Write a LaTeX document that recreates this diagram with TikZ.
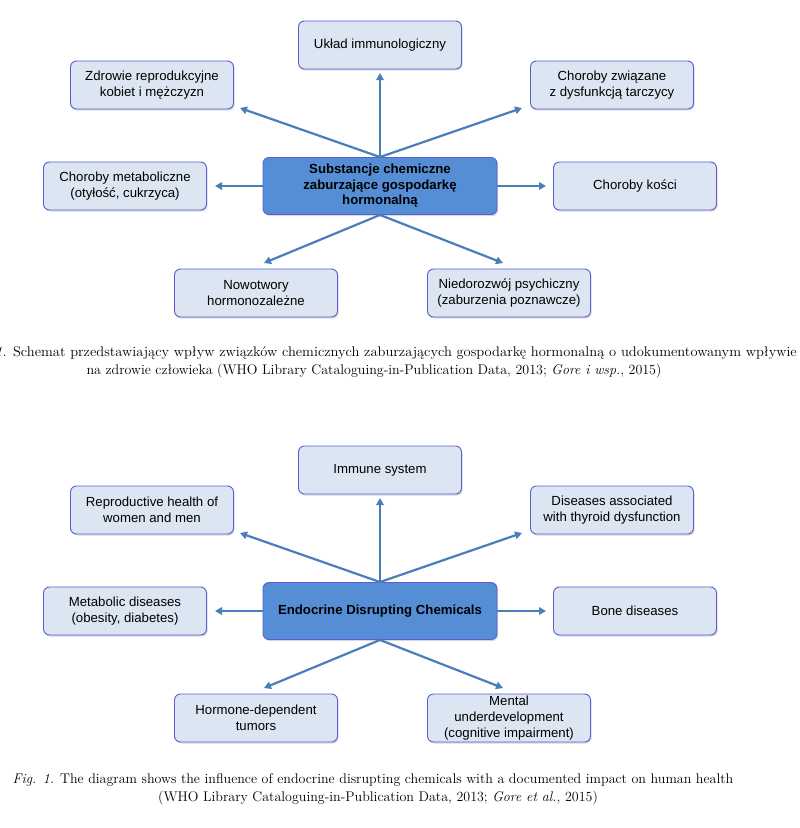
\documentclass[tikz,border=0pt]{standalone}
\usepackage{fontspec}
\newfontfamily\boxfont{Liberation Sans}
\usetikzlibrary{shadows,arrows.meta}
\definecolor{boxfill}{HTML}{DCE6F2}
\definecolor{boxdraw}{HTML}{5C5CD6}
\definecolor{ctrfill}{HTML}{558ED5}
\definecolor{arr}{HTML}{4A7EBB}
\begin{document}
\begin{tikzpicture}[x=1pt,y=-1pt,
  leaf/.style={draw=boxdraw, fill=boxfill, line width=0.9pt, rounded corners=6pt,
    minimum width=163pt, minimum height=48pt, inner sep=0pt, align=center,
    font=\boxfont\fontsize{13.2}{16}\selectfont,
    drop shadow={shadow xshift=1.2pt,shadow yshift=-1.6pt,opacity=0.3}},
  hub/.style={leaf, fill=ctrfill, minimum width=234pt, minimum height=57pt,
    font=\boxfont\bfseries\fontsize{13.2}{15.5}\selectfont},
  link/.style={draw=arr, line width=2.2pt, -{Triangle[length=7pt,width=7.5pt]}},
  captext/.style={inner sep=0pt, font=\fontsize{14}{17}\selectfont},
]
\useasboundingbox (0,0) rectangle (800,828);
% ---------- top diagram ----------
\node[leaf] (ti) at (380,45) {Układ immunologiczny};
\node[leaf] (tr) at (152,85) {Zdrowie reprodukcyjne\\kobiet i mężczyzn};
\node[leaf] (tt) at (612,85) {Choroby związane\\z dysfunkcją tarczycy};
\node[leaf] (tm) at (125,186) {Choroby metaboliczne\\(otyłość, cukrzyca)};
\node[hub]  (tc) at (380,186) {Substancje chemiczne\\zaburzające gospodarkę\\hormonalną};
\node[leaf] (tb) at (635,186) {Choroby kości};
\node[leaf] (th) at (256,293) {Nowotwory\\hormonozależne};
\node[leaf] (tp) at (509,293) {Niedorozwój psychiczny\\(zaburzenia poznawcze)};
\coordinate (ti-e) at (380,73);
\coordinate (tr-e) at (240,108);
\coordinate (tt-e) at (522,108);
\coordinate (tm-e) at (215,186);
\coordinate (tb-e) at (546,186);
\coordinate (th-e) at (264,263);
\coordinate (tp-e) at (503,263);
\draw[link] (tc.north) -- (ti-e);
\draw[link] (tc.north) -- (tr-e);
\draw[link] (tc.north) -- (tt-e);
\draw[link] (tc.west) -- (tm-e);
\draw[link] (tc.east) -- (tb-e);
\draw[link] (tc.south) -- (th-e);
\draw[link] (tc.south) -- (tp-e);
\node[captext, anchor=base east, xscale=1.037, transform shape] (c1a) at (797,356) {\textit{1.} Schemat przedstawiający wpływ związków chemicznych zaburzających gospodarkę hormonalną o udokumentowanym wpływie};
\node[captext, anchor=base] (c1b) at (374,374) {na zdrowie człowieka (WHO Library Cataloguing-in-Publication Data, 2013; \textit{Gore i wsp.}, 2015)};
% ---------- bottom diagram ----------
\node[leaf] (bi) at (380,470) {Immune system};
\node[leaf] (br) at (152,510) {Reproductive health of\\women and men};
\node[leaf] (bt) at (612,510) {Diseases associated\\with thyroid dysfunction};
\node[leaf] (bm) at (125,611) {Metabolic diseases\\(obesity, diabetes)};
\node[hub]  (bc) at (380,611) {Endocrine Disrupting Chemicals};
\node[leaf] (bb) at (635,611) {Bone diseases};
\node[leaf] (bh) at (256,718) {Hormone-dependent\\tumors};
\node[leaf] (bp) at (509,718) {Mental\\underdevelopment\\(cognitive impairment)};
\coordinate (bi-e) at (380,498);
\coordinate (br-e) at (240,533);
\coordinate (bt-e) at (522,533);
\coordinate (bm-e) at (215,611);
\coordinate (bb-e) at (546,611);
\coordinate (bh-e) at (264,688);
\coordinate (bp-e) at (503,688);
\draw[link] (bc.north) -- (bi-e);
\draw[link] (bc.north) -- (br-e);
\draw[link] (bc.north) -- (bt-e);
\draw[link] (bc.west) -- (bm-e);
\draw[link] (bc.east) -- (bb-e);
\draw[link] (bc.south) -- (bh-e);
\draw[link] (bc.south) -- (bp-e);
\node[captext, anchor=base] (c2a) at (373,783) {\textit{Fig. 1.} The diagram shows the influence of endocrine disrupting chemicals with a documented impact on human health};
\node[captext, anchor=base] (c2b) at (378,801) {(WHO Library Cataloguing-in-Publication Data, 2013; \textit{Gore et al.}, 2015)};
\end{tikzpicture}
\end{document}
